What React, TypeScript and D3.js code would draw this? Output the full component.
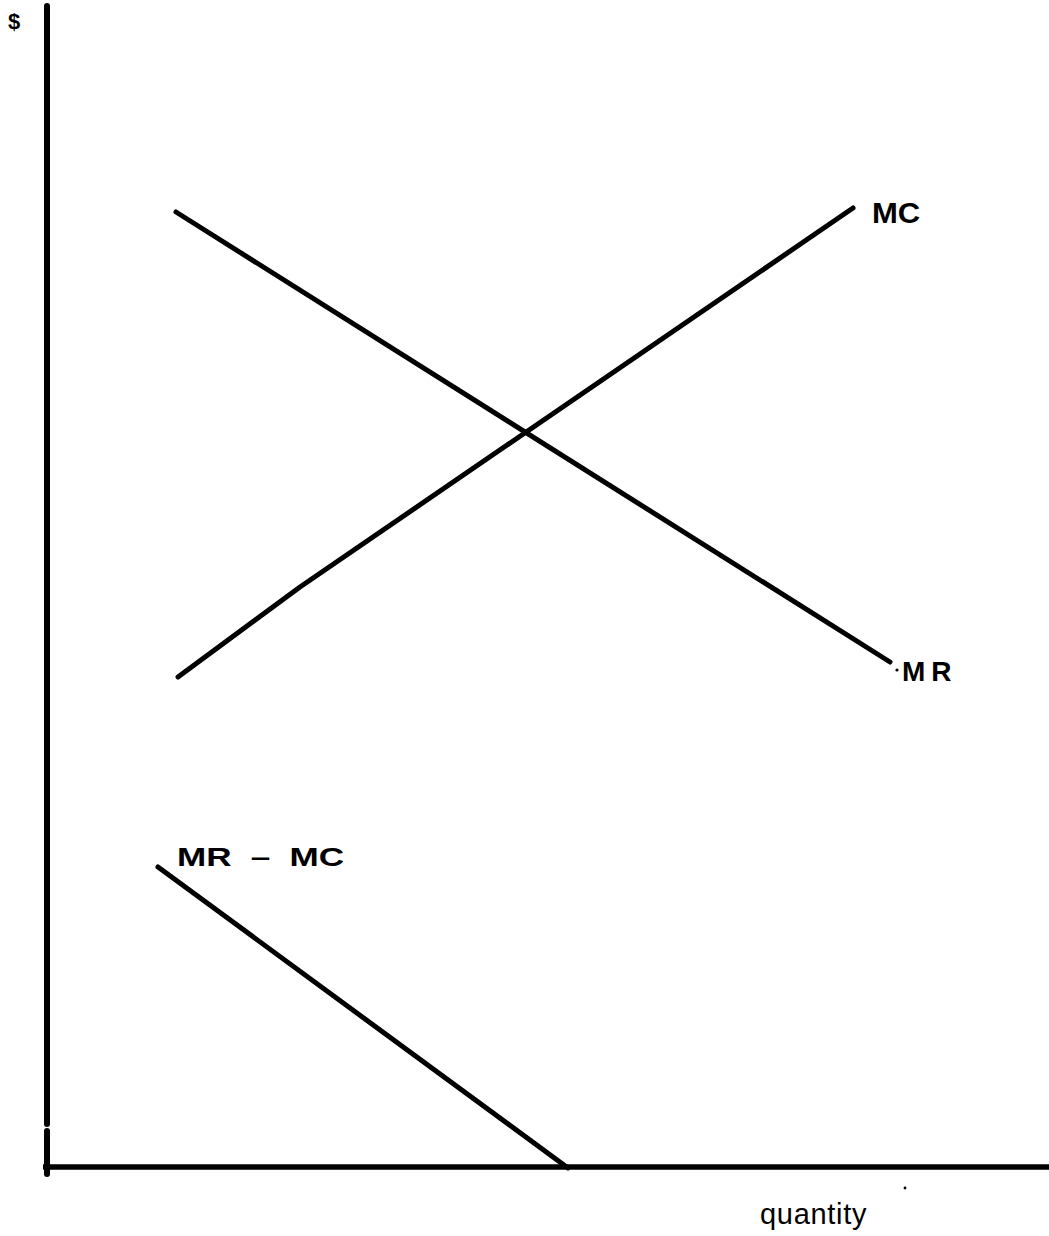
import React from "react";
import * as d3 from "d3";

const mrPoints: [number, number][] = [[1.29, 9.55], [8.43, 5.05]];
const mcPoints: [number, number][] = [[1.31, 4.90], [2.53, 5.80], [8.06, 9.59]];
const diffPoints: [number, number][] = [[1.11, 3.00], [5.21, -0.01]];

export default function App() {
  const W = 1049, H = 1236;
  const x = d3.scaleLinear().domain([0, 10]).range([47, 1047]);
  const y = d3.scaleLinear().domain([0, 10]).range([1167, 167]);
  const line = d3.line<[number, number]>().x(d => x(d[0])).y(d => y(d[1]));
  const font = "Liberation Sans, Arial, Helvetica, sans-serif";
  return (
    <svg width={W} height={H} style={{ position: "absolute", left: 0, top: 0, background: "#fff" }}>
      <rect width={W} height={H} fill="#fff" />
      <line x1={x(0)} y1={6} x2={x(0)} y2={1124} stroke="#000" strokeWidth={6} strokeLinecap="round" />
      <line x1={x(0)} y1={1131} x2={x(0)} y2={1174} stroke="#000" strokeWidth={6} strokeLinecap="round" />
      <line x1={43} y1={y(0)} x2={1049} y2={y(0)} stroke="#000" strokeWidth={5.5} />
      {[mrPoints, mcPoints, diffPoints].map((p, i) => (
        <path key={i} d={line(p) || ""} fill="none" stroke="#000" strokeWidth={5} strokeLinecap="round" strokeLinejoin="round" />
      ))}
      <text transform="translate(872,223) scale(1.07,1)" fontFamily={font} fontWeight="bold" fontSize={29} fill="#000">MC</text>
      <text x={902} y={681} fontFamily={font} fontWeight="bold" fontSize={28} letterSpacing={6} fill="#000">MR</text>
      <circle cx={897} cy={670} r={1.6} fill="#000" />
      <text transform="translate(177,866) scale(1.35,1)" fontFamily={font} fontWeight="bold" fontSize={26} wordSpacing={7} fill="#000">MR – MC</text>
      <text x={8} y={29} fontFamily={font} fontWeight="bold" fontSize={22} fill="#000">$</text>
      <text x={760} y={1224} fontFamily={font} fontSize={29} letterSpacing={0.7} fill="#000">quantity</text>
      <circle cx={905} cy={1188} r={1.4} fill="#000" />
    </svg>
  );
}
